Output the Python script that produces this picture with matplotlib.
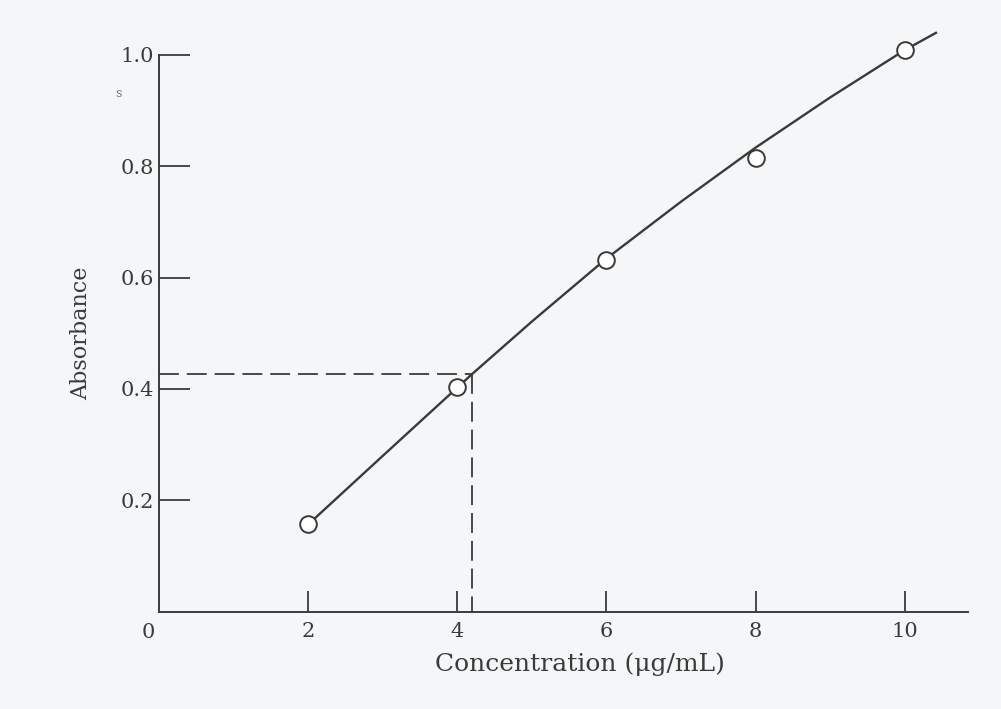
import matplotlib
matplotlib.use("Agg")
import matplotlib.pyplot as plt

# standards
conc = [2.0, 4.0, 6.0, 8.0, 10.0]
absorb = [0.157, 0.404, 0.631, 0.815, 1.009]

# hand drawn calibration curve
curve_x = [2.0, 3.0, 4.2, 5.0, 6.0, 7.0, 8.0, 9.0, 10.0, 10.42]
curve_y = [0.157, 0.280, 0.427, 0.521, 0.634, 0.736, 0.833, 0.923, 1.008, 1.039]

# unknown sample
unk_x = 4.2
unk_y = 0.427

xticks = [2, 4, 6, 8, 10]
yticks = [0.2, 0.4, 0.6, 0.8, 1.0]

plt.rcParams['font.family'] = ['DejaVu Serif']
ink = '#3a3a3a'
bg = '#f4f6f8'

fig = plt.figure(figsize=(10.01, 7.09), dpi=100, facecolor=bg)
ax = fig.add_axes([0.159, 0.137, 0.808, 0.786])
ax.set_facecolor(bg)

ax.plot(curve_x, curve_y, color=ink, lw=1.7, clip_on=False, zorder=2)
ax.plot(conc, absorb, 'o', ms=12, mfc='white', mec=ink, mew=1.4,
        clip_on=False, zorder=3)

# dashed read-off lines
ax.plot([0, unk_x], [unk_y, unk_y], color=ink, lw=1.3, dashes=(11, 4.4), zorder=1)
ax.plot([unk_x, unk_x], [unk_y, 0], color=ink, lw=1.3, dashes=(11, 4.4), zorder=1)

ax.set_xlim(0, 10.85)
ax.set_ylim(0, 1.0)
for s in ['top', 'right']:
    ax.spines[s].set_visible(False)
for s in ['left', 'bottom']:
    ax.spines[s].set_color(ink)
    ax.spines[s].set_linewidth(1.4)

ax.set_xticks(xticks)
ax.set_xticklabels([str(t) for t in xticks])
ax.set_yticks(yticks)
ax.set_yticklabels(['%.1f' % t for t in yticks])
ax.tick_params(axis='x', direction='in', length=15, width=1.3, color=ink,
               labelsize=15, labelcolor=ink, pad=7)
ax.tick_params(axis='y', direction='in', length=22, width=1.3, color=ink,
               labelsize=15, labelcolor=ink, pad=4)

ax.text(-0.15, -0.037, '0', ha='center', va='center', fontsize=15, color=ink)
ax.text(-0.55, 0.93, 's', ha='center', va='center', fontsize=9, color='#777777')

ax.set_xlabel('Concentration (μg/mL)', fontsize=18, color=ink)
ax.xaxis.set_label_coords(0.52, -0.072)
ax.set_ylabel('Absorbance', fontsize=16, color=ink, labelpad=20)

fig.savefig('out.png', dpi=100, facecolor=bg)
